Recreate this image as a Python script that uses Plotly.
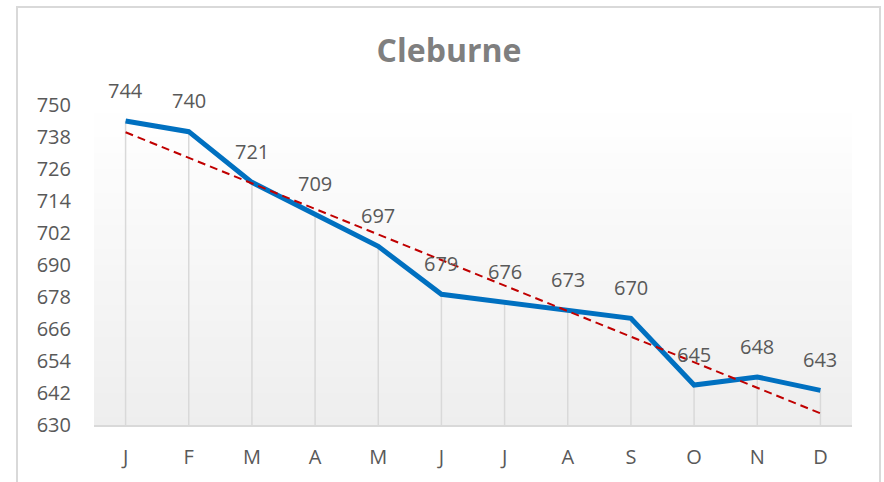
import numpy as np
import plotly.graph_objects as go

months = ["J", "F", "M", "A", "M", "J", "J", "A", "S", "O", "N", "D"]
values = [744, 740, 721, 709, 697, 679, 676, 673, 670, 645, 648, 643]
y_ticks = [630, 642, 654, 666, 678, 690, 702, 714, 726, 738, 750]
title_text = "Cleburne"

x_idx = np.arange(len(months))
slope, intercept = np.polyfit(x_idx, values, 1)
trend = slope * x_idx + intercept
y_min, y_max = y_ticks[0], y_ticks[-1]

FONT = "Open Sans"
TXT = "#595959"

fig = go.Figure()

# drop lines (via error bars down to axis minimum)
fig.add_trace(go.Scatter(
    x=x_idx, y=values, mode="markers",
    marker=dict(size=0.1, color="rgba(0,0,0,0)"),
    error_y=dict(type="data", symmetric=False,
                 array=[0] * len(values),
                 arrayminus=[v - y_min for v in values],
                 width=0, color="#d9d9d9", thickness=1.5),
    hoverinfo="skip", showlegend=False))

fig.add_trace(go.Scatter(
    x=x_idx, y=values, mode="lines",
    line=dict(color="#0070c0", width=5),
    showlegend=False))

fig.add_trace(go.Scatter(
    x=x_idx, y=trend, mode="lines",
    line=dict(color="#c00000", width=2, dash="8px,5px"),
    showlegend=False))

for i, v in enumerate(values):
    fig.add_annotation(x=i, y=v, text=str(v), showarrow=False,
                       yshift=31, font=dict(family=FONT, size=20, color=TXT))

# gradient background bands
n = 40
for k in range(n):
    t = k / n
    c = int(round(255 - (255 - 238) * (1 - (k + 0.5) / n)))
    fig.add_shape(type="rect", xref="x domain", yref="y domain",
                  x0=0, x1=1, y0=t, y1=(k + 1) / n,
                  fillcolor=f"rgb({c},{c},{c})", line=dict(width=0),
                  layer="below")

# outer border
W, H = 884, 482
L, R, T, B = 94, 32, 105, 57
pw, ph = W - L - R, H - T - B
fig.add_shape(type="rect", xref="paper", yref="paper",
              x0=(17 - L) / pw, x1=(880 - L) / pw,
              y0=(H - B - 520) / ph, y1=(H - B - 7) / ph,
              line=dict(color="#d9d9d9", width=2), fillcolor="rgba(0,0,0,0)")

fig.update_layout(
    width=W, height=H, autosize=False,
    margin=dict(l=L, r=R, t=T, b=B, autoexpand=False),
    paper_bgcolor="white", plot_bgcolor="white",
    title=dict(text=f"<b>{title_text}</b>", x=(449 - L) / pw, xref="paper",
               xanchor="center", y=1 - 51 / H, yanchor="middle",
               automargin=False,
               font=dict(family=FONT, size=32, color="#7f7f7f")),
    xaxis=dict(range=[-0.5, len(months) - 0.5], tickmode="array",
               tickvals=list(x_idx), ticktext=months,
               showgrid=False, zeroline=False, automargin=False,
               showline=True, linecolor="#d9d9d9", linewidth=1.5,
               ticks="", ticklabelstandoff=13,
               tickfont=dict(family=FONT, size=20, color=TXT)),
    yaxis=dict(range=[y_min, y_max], tickmode="array", tickvals=y_ticks,
               showgrid=False, zeroline=False, showline=False,
               automargin=False,
               ticks="", ticklabelstandoff=22,
               tickfont=dict(family=FONT, size=20, color=TXT)),
)

fig.write_html("out.html",
               config={"displayModeBar": False},
               post_script="document.body.style.margin='0px';"
                           "document.body.style.overflow='hidden';")
